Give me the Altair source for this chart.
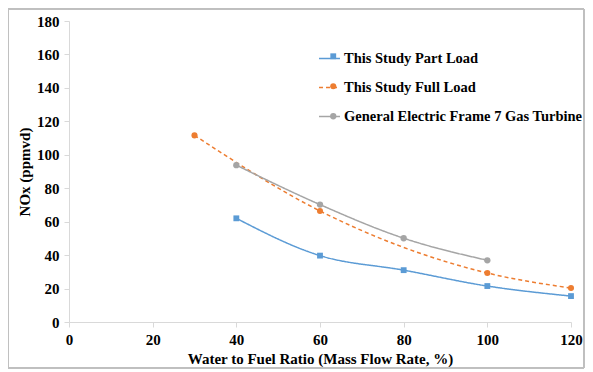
import altair as alt
import pandas as pd

series_names = ["This Study Part Load", "This Study Full Load", "General Electric Frame 7 Gas Turbine"]

part_x = [40, 60, 80, 100, 120]
part_y = [62, 39.7, 31, 21.5, 15.5]

full_x = [30, 60, 100, 120]
full_y = [111.6, 66.4, 29.3, 20.3]

ge_x = [40, 60, 80, 100]
ge_y = [93.8, 70.2, 50.1, 36.9]

rows = []
for n, xs, ys in [(series_names[0], part_x, part_y), (series_names[1], full_x, full_y), (series_names[2], ge_x, ge_y)]:
    for a, b in zip(xs, ys):
        rows.append({"series": n, "x": a, "y": b})
df = pd.DataFrame(rows)

colors = ["#5B9BD5", "#ED7D31", "#A5A5A5"]
FONT = "Liberation Serif"

legend_common = dict(title=None, orient="none", legendX=249,
                     labelFont=FONT, labelFontSize=14.5, labelFontWeight="bold",
                     labelLimit=400, labelOffset=3)

line_color = alt.Color("series:N", scale=alt.Scale(domain=series_names, range=colors),
                       legend=alt.Legend(symbolType="stroke", symbolSize=440, symbolStrokeWidth=1.5,
                                         labelColor="#000000", legendY=26, rowPadding=11,
                                         symbolOffset=0, **legend_common))
dash = alt.StrokeDash("series:N", scale=alt.Scale(domain=series_names, range=[[1, 0], [4, 3], [1, 0]]))

pt_color = alt.Color("series:N", scale=alt.Scale(domain=series_names, range=colors),
                     legend=alt.Legend(labelColor="transparent", symbolStrokeWidth=0,
                                       legendY=28, rowPadding=15, symbolOffset=8, **legend_common))
shape = alt.Shape("series:N", scale=alt.Scale(domain=series_names, range=["square", "circle", "circle"]))
size = alt.Size("series:N", scale=alt.Scale(domain=series_names, range=[34, 40, 12]))

axis_common = dict(grid=False, domainColor="#d9d9d9", tickColor="#d9d9d9", tickSize=5,
                   labelFlush=False,
                   labelFont=FONT, labelFontSize=15, labelFontWeight="bold", labelColor="#000",
                   titleFont=FONT, titleFontSize=15, titleFontWeight="bold", titleColor="#000")

x = alt.X("x:Q", scale=alt.Scale(domain=[0, 120]),
          axis=alt.Axis(values=[0, 20, 40, 60, 80, 100, 120], title="Water to Fuel Ratio (Mass Flow Rate, %)",
                        labelPadding=5, titlePadding=4, **axis_common))
y = alt.Y("y:Q", scale=alt.Scale(domain=[0, 180]),
          axis=alt.Axis(values=list(range(0, 181, 20)), title="NOx (ppmvd)",
                        labelPadding=5, titlePadding=4, **axis_common))

lines = alt.Chart(df).mark_line(interpolate="monotone", strokeWidth=1.5).encode(
    x=x, y=y, color=line_color, strokeDash=dash)
points = alt.Chart(df).mark_point(filled=True, opacity=1).encode(
    x=x, y=y, color=pt_color, shape=shape, size=size)

border = alt.Chart(df).mark_rect(fill=None, stroke="#bfbfbf", strokeWidth=1).encode(
    x=alt.value(-61), x2=alt.value(515), y=alt.value(-12), y2=alt.value(347))

chart = alt.layer(border, lines, points).resolve_scale(
    color="independent", shape="independent", size="independent", strokeDash="independent"
).resolve_legend(color="independent").properties(
    width=502, height=301,
    padding={"left": 61, "top": 13, "right": 14, "bottom": 48},
    autosize=alt.AutoSizeParams(type="none"),
).configure_view(stroke=None)

chart.save("out.html", embed_options={"renderer": "svg", "actions": False})
